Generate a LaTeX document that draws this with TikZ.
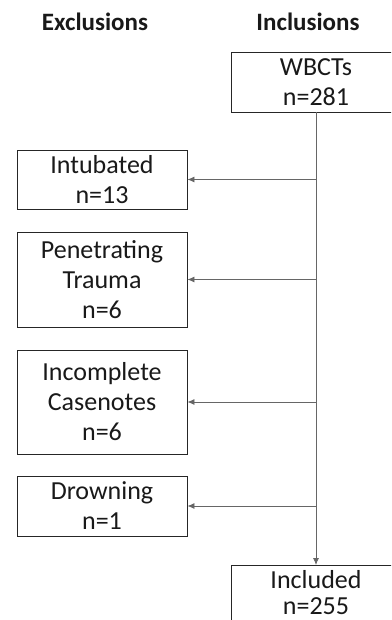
\documentclass[tikz,border=0pt]{standalone}
\usepackage{fontspec}
\setmainfont{Carlito}
\usetikzlibrary{arrows.meta}
\begin{document}
\begin{tikzpicture}[x=1pt,y=-1pt,
  boxline/.style={draw=black!85, line width=0.9pt},
  box/.style={boxline, rectangle, inner sep=0pt, align=center,
    font=\fontsize{26}{30}\selectfont, text=black!90, minimum width=170pt},
  head/.style={font=\fontsize{25}{28}\selectfont\bfseries, text=black!90},
  link/.style={draw=black!60, line width=0.8pt, -{Latex[length=7pt,width=6pt]}}]
\clip (0,0) rectangle (391,620);
\node[head] (exc) at (95,22) {Exclusions};
\node[head] (inc) at (308,22) {Inclusions};
\node[box, minimum height=60pt] (wbct) at (316,82) {WBCTs\\n=281};
\node[align=center, inner sep=0pt, text=black!90, font=\fontsize{26}{26}\selectfont] (incl) at (316,593) {Included\\n=255};
\coordinate (incltop) at (316,565);
\draw[boxline] ([xshift=-85pt]incltop) ++(0,70) -- ([xshift=-85pt]incltop) -- ([xshift=85pt]incltop) -- ++(0,70);
\node[box, minimum height=59pt] (intub) at (102,179.5) {Intubated\\n=13};
\node[box, minimum height=95pt] (pen) at (102,279.5) {Penetrating\\Trauma\\n=6};
\node[box, minimum height=104pt] (incc) at (102,402) {Incomplete\\Casenotes\\n=6};
\node[box, minimum height=60pt] (drown) at (102,506) {Drowning\\n=1};
\coordinate (b1) at (wbct.south |- intub.east);
\coordinate (b2) at (wbct.south |- pen.east);
\coordinate (b3) at (wbct.south |- incc.east);
\coordinate (b4) at (wbct.south |- drown.east);
\draw[link] (wbct.south) -- (incltop);
\draw[link] (b1) -- (intub.east);
\draw[link] (b2) -- (pen.east);
\draw[link] (b3) -- (incc.east);
\draw[link] (b4) -- (drown.east);
\end{tikzpicture}
\end{document}
